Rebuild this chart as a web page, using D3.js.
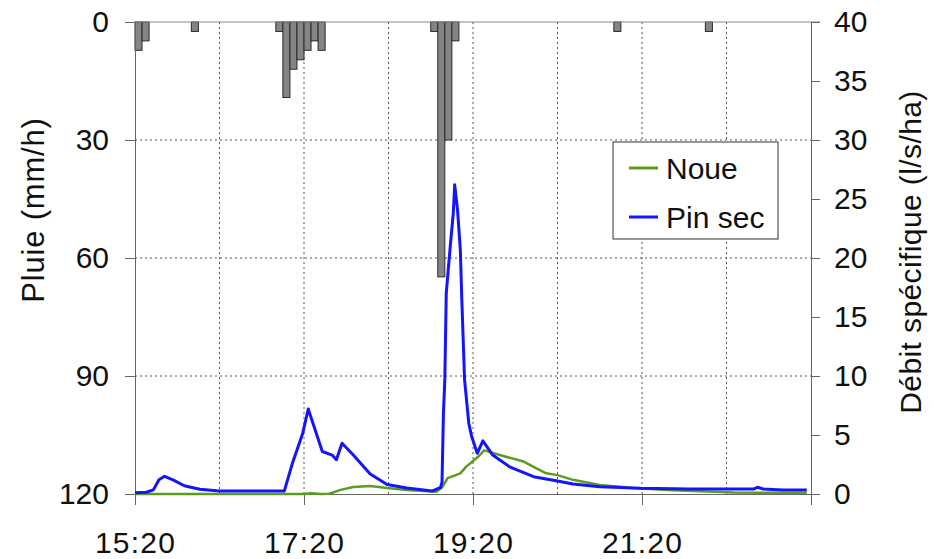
<!DOCTYPE html>
<html>
<head>
<meta charset="utf-8">
<script src="https://cdn.jsdelivr.net/npm/d3@7"></script>
<style>
  html, body { margin: 0; padding: 0; background: #fff; }
  svg { display: block; font-family: "Liberation Sans", Arial, sans-serif; }
</style>
</head>
<body>
<svg id="chart" width="942" height="559"></svg>
<script>
// Rainfall, 5-minute intensities (mm/h); only non-zero intervals listed
const rainTimes  = ["15:20","15:25","16:00","17:00","17:05","17:10","17:15","17:20","17:25","17:30",
                    "18:50","18:55","19:00","19:05","21:00","22:05"];
const rainValues = [7.2, 4.8, 2.4, 2.4, 19.2, 12.0, 9.6, 7.2, 4.8, 7.2,
                    2.4, 64.8, 30, 4.8, 2.4, 2.4];

// Specific discharge, "Noue" (l/s/ha)
const noueTimes = ["15:20","17:20","17:25","17:32","17:38","17:46","17:55","18:07","18:19","18:33",
                   "18:54","18:58","19:02","19:11","19:15","19:24","19:28","19:39","19:56","20:03",
                   "20:12","20:20","20:31","20:50","21:14","21:38","22:25","23:17"];
const noueFlow  = [0.0, 0.0, 0.06, 0.0, 0.02, 0.35, 0.6, 0.68, 0.5, 0.34,
                   0.2, 0.55, 1.35, 1.75, 2.3, 3.2, 3.7, 3.3, 2.75, 2.3,
                   1.75, 1.6, 1.2, 0.76, 0.5, 0.34, 0.12, 0.11];

// Specific discharge, "Pin sec" (l/s/ha)
const pinSecTimes = ["15:20","15:28","15:33","15:37","15:41","15:47","15:55","16:06","16:20","17:06",
                     "17:12","17:19","17:23","17:33","17:40","17:43","17:47","17:55","18:07","18:19",
                     "18:33","18:51","18:57","18:58","18:59","19:00","19:01","19:04","19:06","19:07",
                     "19:09","19:11","19:12","19:14","19:17","19:19","19:23","19:27","19:34","19:46",
                     "20:03","20:20","20:31","20:50","21:19","21:54","22:39","22:42","22:46","23:00","23:17"];
const pinSecFlow  = [0.1, 0.15, 0.35, 1.2, 1.5, 1.2, 0.7, 0.4, 0.25, 0.25,
                     2.7, 5.1, 7.2, 3.6, 3.3, 2.9, 4.3, 3.3, 1.7, 0.8,
                     0.5, 0.25, 0.57, 1.0, 6.8, 9.7, 17.0, 21.2, 23.8, 26.2,
                     24.1, 20.7, 16.7, 9.7, 6.0, 4.9, 3.45, 4.5, 3.3, 2.3,
                     1.47, 1.1, 0.85, 0.62, 0.48, 0.42, 0.42, 0.57, 0.42, 0.34, 0.34];

// Axis ticks
const timeStart = "15:20", timeEnd = "23:20";
const xTickLabels = ["15:20","17:20","19:20","21:20"];
const rainTicks = [0, 30, 60, 90, 120];
const flowTicks = [0, 5, 10, 15, 20, 25, 30, 35, 40];

const seriesNames = ["Noue", "Pin sec"];
const seriesColors = ["#5a9e1c", "#1414ff"];

const parse = d3.timeParse("%H:%M");
const fmt = d3.timeFormat("%H:%M");

const W = 942, H = 559;
const m = { left: 135, right: 131, top: 22, bottom: 65 };
const x0 = m.left, x1 = W - m.right, y0 = m.top, y1 = H - m.bottom;

const x = d3.scaleTime().domain([parse(timeStart), parse(timeEnd)]).range([x0, x1]);
const yRain = d3.scaleLinear().domain([0, 120]).range([y0, y1]);
const yFlow = d3.scaleLinear().domain([0, 40]).range([y1, y0]);

const svg = d3.select("#chart");
const textColor = "#111";
const fontSize = 30;

// Dotted grid: hourly verticals and every 30 mm/h horizontally
const hourTicks = d3.timeHour.every(1).range(parse(timeStart), parse(timeEnd))
  .map(d => d3.timeMinute.offset(d, 20))
  .filter(d => d > parse(timeStart) && d < parse(timeEnd));
svg.append("g").selectAll("line").data(hourTicks).join("line")
  .attr("x1", d => x(d)).attr("x2", d => x(d))
  .attr("y1", y0).attr("y2", y1)
  .attr("stroke", "#555").attr("stroke-width", 1).attr("stroke-dasharray", "2,3");
svg.append("g").selectAll("line").data(rainTicks.filter(v => v > 0 && v < 120)).join("line")
  .attr("x1", x0).attr("x2", x1)
  .attr("y1", d => yRain(d)).attr("y2", d => yRain(d))
  .attr("stroke", "#555").attr("stroke-width", 1).attr("stroke-dasharray", "2,3");

// Rain bars hanging from the top
const rain = rainTimes.map((t, i) => ({ t: parse(t), v: rainValues[i] }));
svg.append("g").selectAll("rect").data(rain).join("rect")
  .attr("x", d => x(d.t))
  .attr("width", d => x(d3.timeMinute.offset(d.t, 5)) - x(d.t))
  .attr("y", y0)
  .attr("height", d => yRain(d.v) - y0)
  .attr("fill", "#858585").attr("stroke", "#2a2a2a").attr("stroke-width", 1);

// Top frame line
svg.append("line").attr("x1", x0).attr("x2", x1 + 9).attr("y1", y0).attr("y2", y0)
  .attr("stroke", "#8a8a8a").attr("stroke-width", 1);

// Axes
function styleAxis(g) {
  g.selectAll(".domain").attr("stroke", "#666");
  g.selectAll(".tick line").attr("stroke", "#666");
  g.selectAll(".tick text").attr("fill", textColor).attr("font-size", fontSize)
    .attr("font-family", "Liberation Sans, Arial, sans-serif");
}

const xTickVals = xTickLabels.map(parse).concat([parse(timeEnd)]);
svg.append("g").attr("transform", `translate(0,${y1})`)
  .call(d3.axisBottom(x).tickValues(xTickVals).tickSize(11).tickPadding(27)
    .tickFormat(d => xTickLabels.includes(fmt(d)) ? fmt(d) : ""))
  .call(styleAxis)
  .call(g => g.selectAll(".tick text").attr("letter-spacing", "1.2px"));

svg.append("g").attr("transform", `translate(${x0},0)`)
  .call(d3.axisLeft(yRain).tickValues(rainTicks).tickSize(10).tickPadding(16).tickSizeOuter(0))
  .call(styleAxis);

svg.append("g").attr("transform", `translate(${x1},0)`)
  .call(d3.axisRight(yFlow).tickValues(flowTicks).tickSize(9).tickPadding(14).tickSizeOuter(0))
  .call(styleAxis);

// Discharge lines
const lineGen = d3.line().x(d => x(d.t)).y(d => yFlow(d.v));
const noue = noueTimes.map((t, i) => ({ t: parse(t), v: noueFlow[i] }));
const pin = pinSecTimes.map((t, i) => ({ t: parse(t), v: pinSecFlow[i] }));
svg.append("path").datum(noue).attr("d", lineGen)
  .attr("fill", "none").attr("stroke", seriesColors[0]).attr("stroke-width", 2.5)
  .attr("stroke-linejoin", "round");
svg.append("path").datum(pin).attr("d", lineGen)
  .attr("fill", "none").attr("stroke", seriesColors[1]).attr("stroke-width", 3)
  .attr("stroke-linejoin", "round");

// Axis titles
svg.append("text")
  .attr("transform", `translate(44,210) rotate(-90)`)
  .attr("text-anchor", "middle").attr("font-size", 31).attr("fill", textColor)
  .attr("letter-spacing", "0.8px")
  .text("Pluie (mm/h)");
svg.append("text")
  .attr("transform", `translate(921,${(y0 + y1) / 2 - 6}) rotate(-90)`)
  .attr("text-anchor", "middle").attr("font-size", fontSize).attr("fill", textColor)
  .attr("letter-spacing", "0.4px")
  .text("Débit spécifique (l/s/ha)");

// Legend
const lg = svg.append("g").attr("transform", "translate(613,142)");
lg.append("rect").attr("width", 165).attr("height", 97)
  .attr("fill", "#fff").attr("stroke", "#333").attr("stroke-width", 1);
seriesNames.forEach((name, i) => {
  const cy = 26 + i * 49;
  lg.append("line").attr("x1", 16).attr("x2", 45).attr("y1", cy).attr("y2", cy)
    .attr("stroke", seriesColors[i]).attr("stroke-width", 3);
  lg.append("text").attr("x", 53).attr("y", cy).attr("dy", "0.36em")
    .attr("font-size", fontSize).attr("fill", textColor).text(name);
});
</script>
</body>
</html>
